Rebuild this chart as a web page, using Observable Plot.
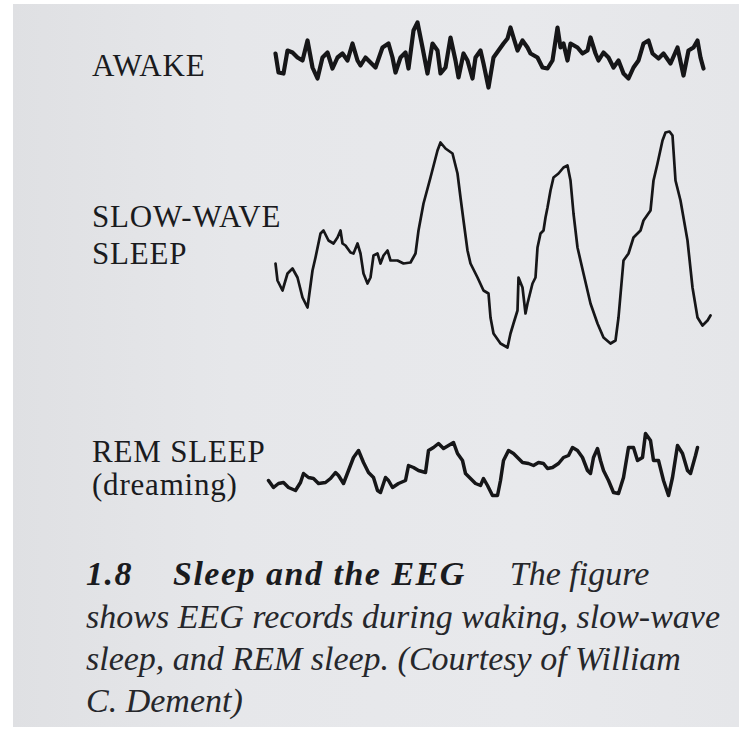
<!DOCTYPE html>
<html>
<head>
<meta charset="utf-8">
<script src="https://cdn.jsdelivr.net/npm/d3@7"></script>
<script src="https://cdn.jsdelivr.net/npm/@observablehq/plot@0.6"></script>
<style>
  html, body { margin: 0; padding: 0; background: #ffffff; }
  #page { position: relative; width: 739px; height: 737px; overflow: hidden; background: #ffffff; }
  #paper { position: absolute; left: 13px; top: 4px; right: 0; bottom: 10px;
    background: linear-gradient(90deg, #dfe0e3 0%, #e6e7ea 30%, #e8e9ec 70%, #e5e6e9 100%); }
  .trace { position: absolute; left: 0; }
  .trace svg { overflow: visible; }
  .lab { position: absolute; left: 92px; font-family: "Liberation Serif", "Times New Roman", serif;
    font-size: 31px; color: #1a1b1e; line-height: 1; white-space: nowrap; letter-spacing: 0.8px; }
  .cap { position: absolute; left: 86px; font-family: "Liberation Serif", "Times New Roman", serif;
    font-style: italic; font-size: 34px; color: #26272b; line-height: 1; white-space: nowrap; }
  .cap b { font-weight: bold; letter-spacing: 1.5px; color: #1a1b1e; }
</style>
</head>
<body>
<div id="page">
  <div id="paper"></div>
</div>
<script>
// ---- Data (t = time units, v = amplitude units) ----
const awakeT = [5,8,13,17,22,27,32,37,42,47,52,57,62,67,72,77,82,87,90,95,100,105,112,118,122,125,130,135,138,143,147,152,157,162,167,170,175,180,185,188,193,197,202,205,210,213,218,223,228,233,237,240,243,247,252,257,260,267,272,277,282,287,290,293,297,300,307,312,317,320,325,328,333,338,343,348,353,358,363,368,373,378,382,388,393,400,407,413,418,423,427,430,433];
const awakeV = [47,28,27,50,48,43,40,60,33,22,43,48,32,43,47,40,57,40,35,43,38,33,53,57,43,28,43,48,32,70,78,53,27,57,50,27,33,63,40,23,47,40,22,43,50,37,13,43,50,57,62,73,63,50,60,53,47,43,33,32,40,73,53,57,40,57,53,47,50,63,47,40,48,43,33,40,27,22,33,40,57,60,47,42,47,37,53,25,50,53,60,43,32];

const swsT = [5,7,12,17,22,27,32,37,42,45,50,53,58,63,67,70,72,75,80,83,87,90,93,97,100,103,107,110,113,117,120,127,133,140,145,148,153,160,167,170,175,182,187,190,193,197,200,207,213,218,220,223,230,237,240,243,247,248,252,255,257,262,265,267,270,273,275,277,280,283,288,293,297,300,303,307,313,320,327,333,340,345,348,353,358,363,370,373,380,383,387,392,395,399,402,405,410,417,422,427,432,437,440];
const swsV = [87,70,60,77,82,73,53,43,80,93,117,120,110,107,113,120,107,105,98,97,107,97,77,67,73,95,97,87,95,100,90,90,87,88,97,120,147,173,200,208,202,197,177,153,130,100,87,73,60,57,33,17,7,3,17,27,40,73,63,37,47,67,73,103,117,120,133,143,160,173,177,183,185,170,137,103,77,47,27,13,7,10,33,90,97,113,120,130,140,170,187,210,218,219,215,170,150,110,63,33,25,30,35];

const remT = [3,8,13,18,23,30,35,38,43,48,53,60,65,70,73,78,83,88,93,98,103,108,112,115,120,123,127,133,140,143,148,153,160,163,168,173,178,183,188,192,197,200,205,210,215,218,222,227,232,235,238,243,248,253,257,263,268,273,278,282,287,293,298,303,307,312,317,322,325,328,332,335,338,343,348,353,358,363,368,372,377,380,385,388,393,398,403,407,412,417,422,425,430,432];
const remV = [30,23,27,28,23,20,28,37,33,32,27,28,32,38,35,27,40,53,60,48,38,33,20,18,33,30,23,27,30,45,43,40,38,60,63,67,62,65,68,57,50,37,32,27,25,32,25,15,15,30,50,60,57,52,48,47,45,48,47,42,43,47,53,55,63,60,53,40,37,53,62,50,40,30,18,17,33,63,63,50,53,77,70,50,50,30,15,33,65,57,40,37,55,63];

const stateLabels = ["AWAKE", "SLOW-WAVE", "SLEEP", "REM SLEEP", "(dreaming)"];
const captionNumber = "1.8";
const captionTitle = "Sleep and the EEG";
const captionLines = [
  "The figure",
  "shows EEG records during waking, slow-wave",
  "sleep, and REM sleep. (Courtesy of William",
  "C. Dement)"
];

// ---- Build ----
const page = document.getElementById("page");
const toRows = (T, V) => T.map((t, i) => ({t, v: V[i]}));

function trace(rows, {top, left, yMax, strokeWidth}) {
  const chart = Plot.plot({
    width: 739,
    height: yMax,
    marginLeft: left,
    marginRight: 739 - left - 450,
    marginTop: 0,
    marginBottom: 0,
    style: {background: "transparent", overflow: "visible"},
    x: {domain: [0, 450], axis: null},
    y: {domain: [0, yMax], axis: null},
    marks: [
      Plot.line(rows, {x: "t", y: "v", stroke: "#161618", strokeWidth,
        strokeLinejoin: "round", strokeLinecap: "round"})
    ]
  });
  const wrap = document.createElement("div");
  wrap.className = "trace";
  wrap.style.top = top + "px";
  wrap.appendChild(chart);
  page.appendChild(wrap);
}

trace(toRows(awakeT, awakeV), {top: 10, left: 270, yMax: 90, strokeWidth: 4.2});
trace(toRows(swsT, swsV), {top: 125, left: 270, yMax: 225, strokeWidth: 2.7});
trace(toRows(remT, remV), {top: 420, left: 265, yMax: 90, strokeWidth: 3.5});

function label(text, baseline, cls, html) {
  const d = document.createElement("div");
  d.className = cls;
  if (html) d.innerHTML = html; else d.textContent = text;
  const fs = cls === "lab" ? 31 : 34;
  d.style.top = (baseline - 0.891 * fs) + "px";
  page.appendChild(d);
  return d;
}
label(stateLabels[0], 78, "lab");
label(stateLabels[1], 229, "lab");
label(stateLabels[2], 266, "lab");
label(stateLabels[3], 464, "lab");
label(stateLabels[4], 497, "lab");

label(null, 587, "cap",
  `<b>${captionNumber}</b><span style="display:inline-block;width:40px"></span><b>${captionTitle}</b><span style="display:inline-block;width:44px"></span>${captionLines[0]}`);
label(captionLines[1], 630, "cap");
label(captionLines[2], 672, "cap");
label(captionLines[3], 714, "cap");
</script>
</body>
</html>
